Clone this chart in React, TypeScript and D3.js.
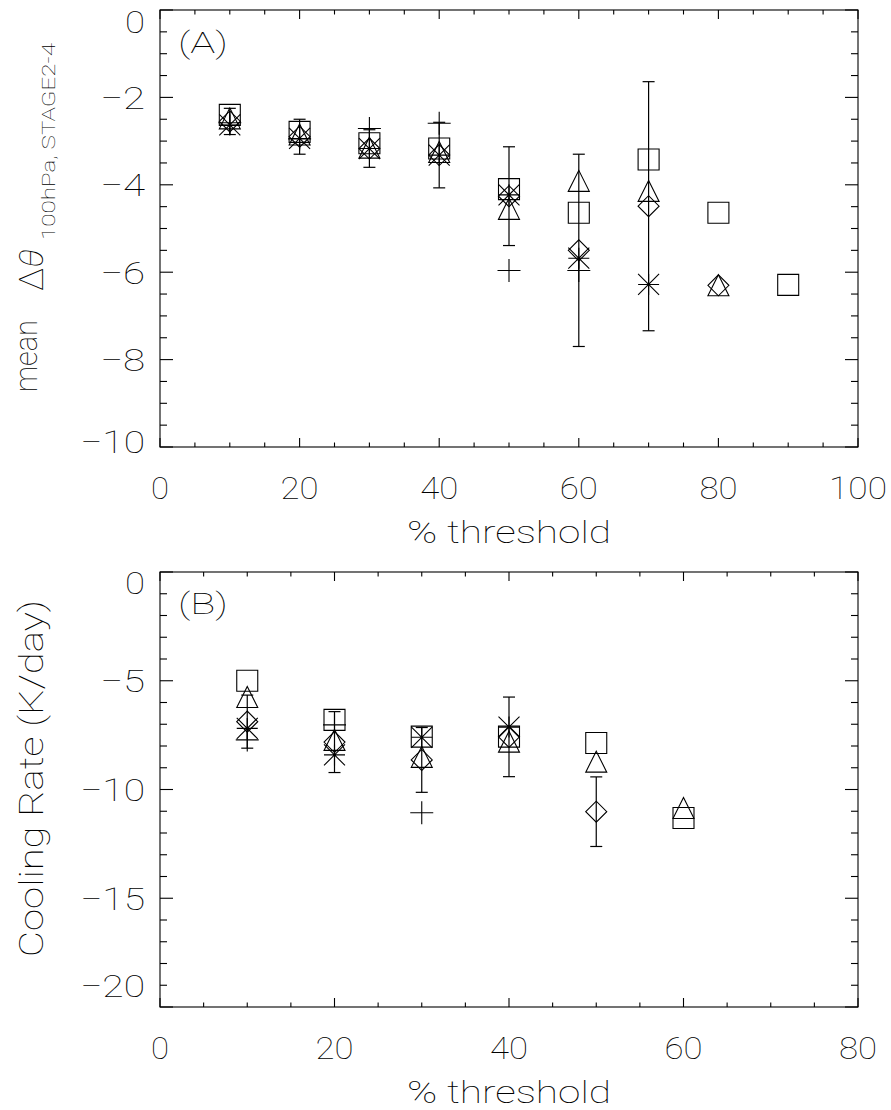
import React from 'react';
import * as d3 from 'd3';

// ---------- Panel A data ----------
const xA = [10, 20, 30, 40, 50, 60, 70, 80, 90];
const squareA: (number | null)[] = [-2.40, -2.79, -3.05, -3.17, -4.10, -4.64, -3.42, -4.64, -6.29];
const triangleA: (number | null)[] = [-2.48, -2.85, -3.15, -3.25, -4.55, -3.91, -4.14, -6.30, null];
const diamondA: (number | null)[] = [-2.55, -2.90, -3.17, -3.32, -4.26, -5.50, -4.49, -6.30, null];
const errA: (number | null)[] = [0.30, 0.40, 0.43, 0.75, 1.13, 2.20, 2.85, null, null];
const asteriskA: (number | null)[] = [-2.63, -2.94, -3.17, -3.32, -4.23, -5.68, -6.28, null, null];
const plusA: (number | null)[] = [-2.58, -2.95, -2.71, -2.59, -5.96, -5.96, null, null, null];
const xTicksA = [0, 20, 40, 60, 80, 100];
const yTicksA = [0, -2, -4, -6, -8, -10];

// ---------- Panel B data ----------
const xB = [10, 20, 30, 40, 50, 60];
const squareB: (number | null)[] = [-5.0, -6.80, -7.57, -7.57, -7.86, -11.31];
const triangleB: (number | null)[] = [-5.75, -7.72, -8.50, -7.80, -8.72, -10.85];
const diamondB: (number | null)[] = [-6.88, -7.82, -8.64, -7.58, -11.02, null];
const errB: (number | null)[] = [1.22, 1.40, 1.49, 1.83, 1.60, null];
const asteriskB: (number | null)[] = [-7.19, -8.41, -7.60, -7.13, null, null];
const plusB: (number | null)[] = [-7.72, -7.03, -11.07, null, null, null];
const xTicksB = [0, 20, 40, 60, 80];
const yTicksB = [0, -5, -10, -15, -20];

const FONT = "Roboto, 'DejaVu Sans', sans-serif";
const WEIGHT = 100;
const S = 10.5;

function fmt(v: number) {
  return v < 0 ? '\u2212' + Math.abs(v) : String(v);
}

function markerPath(kind: string, cx: number, cy: number): string {
  const s = S;
  switch (kind) {
    case 'square':
      return `M${cx - s},${cy - s}H${cx + s}V${cy + s}H${cx - s}Z`;
    case 'triangle':
      return `M${cx - s},${cy + s}L${cx},${cy - s}L${cx + s},${cy + s}Z`;
    case 'diamond':
      return `M${cx - s},${cy}L${cx},${cy - s}L${cx + s},${cy}L${cx},${cy + s}Z`;
    case 'plus': {
      const p = 11.5;
      return `M${cx - p},${cy}H${cx + p}M${cx},${cy - p}V${cy + p}`;
    }
    case 'asterisk':
      return `M${cx - s},${cy}H${cx + s}M${cx},${cy - s}V${cy + s}M${cx - s},${cy - s}L${cx + s},${cy + s}M${cx - s},${cy + s}L${cx + s},${cy - s}`;
  }
  return '';
}

interface PanelProps {
  top: number;
  bottom: number;
  left: number;
  right: number;
  xMax: number;
  yMin: number;
  xMinorStep: number;
  yMinorStep: number;
  xTicks: number[];
  yTicks: number[];
  xs: number[];
  series: { kind: string; values: (number | null)[] }[];
  center: (number | null)[];
  err: (number | null)[];
  label: string;
  labelY: number;
  firstShift: number;
  lastShift: number;
}

function Panel(p: PanelProps) {
  const x = d3.scaleLinear().domain([0, p.xMax]).range([p.left, p.right]);
  const y = d3.scaleLinear().domain([p.yMin, 0]).range([p.bottom, p.top]);
  const xMinor = d3.range(0, p.xMax + 1e-9, p.xMinorStep);
  const yMinor = d3.range(p.yMin, 1e-9, p.yMinorStep);
  const isMajorX = (v: number) => p.xTicks.some((t) => Math.abs(t - v) < 1e-6);
  const isMajorY = (v: number) => p.yTicks.some((t) => Math.abs(t - v) < 1e-6);
  const ticks: React.ReactNode[] = [];
  xMinor.forEach((v, i) => {
    const L = isMajorX(v) ? 9 : 4.5;
    const px = x(v);
    ticks.push(<line key={'xb' + i} x1={px} x2={px} y1={p.bottom} y2={p.bottom - L} />);
    ticks.push(<line key={'xt' + i} x1={px} x2={px} y1={p.top} y2={p.top + L} />);
  });
  yMinor.forEach((v, i) => {
    const L = isMajorY(v) ? 13 : 7;
    const py = y(v);
    ticks.push(<line key={'yl' + i} x1={p.left} x2={p.left + L} y1={py} y2={py} />);
    ticks.push(<line key={'yr' + i} x1={p.right} x2={p.right - L} y1={py} y2={py} />);
  });

  const errMarks: React.ReactNode[] = [];
  p.xs.forEach((xv, i) => {
    const c = p.center[i];
    const e = p.err[i];
    if (c == null || e == null) return;
    const px = x(xv);
    const y1 = y(c + e);
    const y2 = y(c - e);
    errMarks.push(
      <g key={'e' + i}>
        <line x1={px} x2={px} y1={y1} y2={y2} />
        <line x1={px - 6} x2={px + 6} y1={y1} y2={y1} />
        <line x1={px - 6} x2={px + 6} y1={y2} y2={y2} />
      </g>
    );
  });

  const marks: React.ReactNode[] = [];
  p.series.forEach((s) => {
    s.values.forEach((v, i) => {
      if (v == null) return;
      marks.push(<path key={s.kind + i} d={markerPath(s.kind, x(p.xs[i]), y(v))} />);
    });
  });

  return (
    <g>
      <g stroke="#000" strokeWidth={1.1} fill="none">
        <rect x={p.left} y={p.top} width={p.right - p.left} height={p.bottom - p.top} />
        {ticks}
      </g>
      <g fontFamily={FONT} fontWeight={WEIGHT} fontSize={32} fill="#000">
        {p.yTicks.map((t, i) => {
          const shift = i === 0 ? p.firstShift : i === p.yTicks.length - 1 ? p.lastShift : 0;
          const str = fmt(t);
          const digits = str.replace('\u2212', '').length;
          const w = digits * 20 + (t < 0 ? 25 : 0);
          return (
            <text key={'yl' + t} x={p.left - 15} y={y(t) + shift + 11.4} textAnchor="end"
              textLength={w} lengthAdjust="spacingAndGlyphs">{str}</text>
          );
        })}
        {p.xTicks.map((t) => {
          const str = fmt(t);
          const w = str.length * 20 - 2;
          return (
            <text key={'xl' + t} x={x(t)} y={p.bottom + 52} textAnchor="middle"
              textLength={w} lengthAdjust="spacingAndGlyphs">{str}</text>
          );
        })}
        <text x={(p.left + p.right) / 2} y={p.bottom + 96} textAnchor="middle" textLength={204}
          lengthAdjust="spacingAndGlyphs">% threshold</text>
        <text x={178} y={p.labelY} fontSize={30} textLength={50} lengthAdjust="spacingAndGlyphs">{p.label}</text>
      </g>
      <g stroke="#000" strokeWidth={1.2} fill="none">{errMarks}</g>
      <g stroke="#000" strokeWidth={1.1} fill="none">{marks}</g>
    </g>
  );
}

export default function App() {
  return (
    <svg width={891} height={1110} style={{ position: 'absolute', left: 0, top: 0, background: '#fff' }}>
      <rect x={0} y={0} width={891} height={1110} fill="#fff" />
      <Panel
        top={10} bottom={447} left={160} right={858}
        xMax={100} yMin={-10} xMinorStep={5} yMinorStep={0.5}
        xTicks={xTicksA} yTicks={yTicksA} xs={xA}
        series={[
          { kind: 'square', values: squareA },
          { kind: 'triangle', values: triangleA },
          { kind: 'diamond', values: diamondA },
          { kind: 'asterisk', values: asteriskA },
          { kind: 'plus', values: plusA },
        ]}
        center={diamondA} err={errA}
        label="(A)" labelY={53} firstShift={12} lastShift={-5}
      />
      <Panel
        top={572} bottom={1007} left={160} right={858}
        xMax={80} yMin={-20} xMinorStep={5} yMinorStep={1}
        xTicks={xTicksB} yTicks={yTicksB} xs={xB}
        series={[
          { kind: 'square', values: squareB },
          { kind: 'triangle', values: triangleB },
          { kind: 'diamond', values: diamondB },
          { kind: 'asterisk', values: asteriskB },
          { kind: 'plus', values: plusB },
        ]}
        center={diamondB} err={errB}
        label="(B)" labelY={614} firstShift={11} lastShift={-21}
      />
      <g fontFamily={FONT} fontWeight={WEIGHT} fill="#000">
        <text transform="translate(37,392) rotate(-90)" fontSize={31} textLength={72} lengthAdjust="spacingAndGlyphs">mean</text>
        <text transform="translate(43,291) rotate(-90)" fontSize={34} textLength={42} lengthAdjust="spacingAndGlyphs">
          Δ<tspan fontStyle="italic">θ</tspan>
        </text>
        <text transform="translate(55,240) rotate(-90)" fontSize={19} textLength={197} lengthAdjust="spacingAndGlyphs">100hPa, STAGE2-4</text>
        <text transform="translate(43,957) rotate(-90)" fontSize={34} textLength={357} lengthAdjust="spacingAndGlyphs">Cooling Rate (K/day)</text>
      </g>
    </svg>
  );
}
